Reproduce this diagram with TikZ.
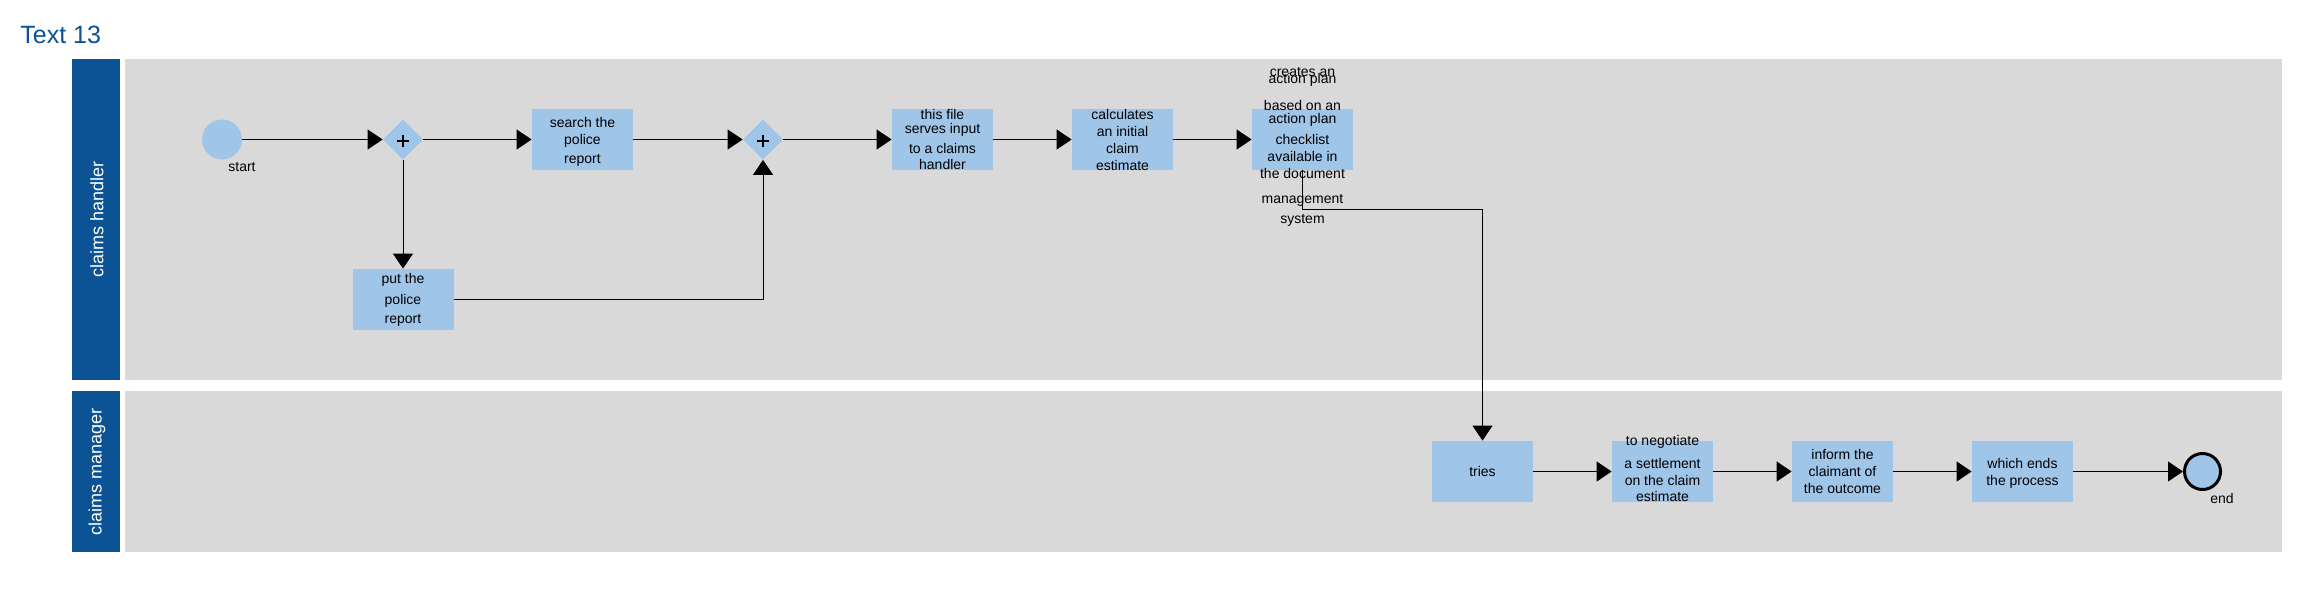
\documentclass[tikz,border=0pt]{standalone}
\usepackage{fontspec}
\setmainfont{Liberation Sans}
\usetikzlibrary{arrows.meta,shapes.geometric}
\definecolor{hdrblue}{RGB}{11,83,148}
\definecolor{boxblue}{RGB}{159,197,232}
\definecolor{lanegray}{RGB}{217,217,217}
\begin{document}
\begin{tikzpicture}[x=0.5pt,y=-0.5pt,
  task/.style={rectangle, fill=boxblue, inner sep=0, minimum width=50.5pt, minimum height=30.5pt},
  gw/.style={diamond, aspect=1, fill=boxblue, inner sep=0, minimum width=20pt, minimum height=20pt},
  txt/.style={inner sep=0, anchor=base, font=\fontsize{7pt}{8pt}\selectfont},
  flow/.style={draw=black, line width=0.5pt, -{Triangle[length=7.5pt,width=10pt]}},
  lanelbl/.style={text=white, font=\fontsize{9pt}{10pt}\selectfont, inner sep=0, rotate=90},
  plus/.style={line width=0.8pt}
]
\useasboundingbox (0,0) rectangle (2299,593);
\fill[white] (0,0) rectangle (2299,593);

% title
\node[anchor=base west, inner sep=0, text=hdrblue, font=\fontsize{12.5pt}{14pt}\selectfont] (title) at (20,44) {Text 13};

% lanes
\fill[hdrblue] (72,59) rectangle (120,380);
\fill[lanegray] (125,59) rectangle (2282,380);
\fill[hdrblue] (72,391) rectangle (120,552);
\fill[lanegray] (125,391) rectangle (2282,552);
\node[lanelbl] (lane1) at (97,219.5) {claims handler};
\node[lanelbl] (lane2) at (97,471.5) {claims manager};

% nodes
\node[circle, fill=boxblue, minimum size=20pt, inner sep=0] (start) at (222,139.5) {};
\node[gw] (gw1) at (403,139.5) {};
\node[task] (search) at (582.5,139.5) {};
\node[gw] (gw2) at (763,139.5) {};
\node[task] (put) at (403,299.5) {};
\node[task] (file) at (942.5,139.5) {};
\node[task] (calc) at (1122.5,139.5) {};
\node[task] (create) at (1302.5,139.5) {};
\node[task] (tries) at (1482.5,471.5) {};
\node[task] (nego) at (1662.5,471.5) {};
\node[task] (inform) at (1842.5,471.5) {};
\node[task] (which) at (2022.5,471.5) {};
\node[circle, fill=boxblue, draw=black, line width=1.5pt, minimum size=18pt, inner sep=0] (end) at (2202.5,471.5) {};

% plus signs
\draw[plus] (gw1.center) ++(-5.8,1.5) -- ++(11.6,0);
\draw[plus] (gw1.center) ++(0,-4.3) -- ++(0,11.6);
\draw[plus] (gw2.center) ++(-5.8,1.5) -- ++(11.6,0);
\draw[plus] (gw2.center) ++(0,-4.3) -- ++(0,11.6);

% connectors
\draw[flow] (start.east) -- (gw1.west);
\draw[flow] (gw1.east) -- (search.west);
\draw[flow] (search.east) -- (gw2.west);
\draw[flow] (gw2.east) -- (file.west);
\draw[flow] (file.east) -- (calc.west);
\draw[flow] (calc.east) -- (create.west);
\draw[flow] (gw1.south) -- (put.north);
\draw[flow] (put.east) -| (gw2.south);
\draw[flow] (create.south) -- ++(0,39) -| (tries.north);
\draw[flow] (tries.east) -- (nego.west);
\draw[flow] (nego.east) -- (inform.west);
\draw[flow] (inform.east) -- (which.west);
\draw[flow] (which.east) -- (end.west);

% labels
\node[txt] (startlbl) at (242,171.5) {start};
\node[txt] (endlbl) at (2222,503.5) {end};
\foreach \s/\y [count=\i] in {search the/127.3, police/144.3, report/164}
  \node[txt] (ts\i) at (582.5,\y) {\s};
\foreach \s/\y [count=\i] in {put the/284, police/304.3, report/324}
  \node[txt] (tp\i) at (403,\y) {\s};
\foreach \s/\y [count=\i] in {this file/119.3, serves input/133.3, to a claims/154, handler/170}
  \node[txt] (tf\i) at (942.5,\y) {\s};
\foreach \s/\y [count=\i] in {calculates/119.5, an initial/136.5, claim/153.5, estimate/170.5}
  \node[txt] (tc\i) at (1122.5,\y) {\s};
\foreach \s/\y [count=\i] in {creates an/76.7, action plan/83.3, based on an/110.7, action plan/124, checklist/145, available in/161.7, the document/179, management/203.3, system/223.3}
  \node[txt] (tr\i) at (1302.5,\y) {\s};
\node[txt] (tt1) at (1482.5,476.5) {tries};
\foreach \s/\y [count=\i] in {to negotiate/445.7, a settlement/468.3, on the claim/485.7, estimate/501.7}
  \node[txt] (tn\i) at (1662.5,\y) {\s};
\foreach \s/\y [count=\i] in {inform the/459.5, claimant of/476.5, the outcome/493.5}
  \node[txt] (ti\i) at (1842.5,\y) {\s};
\foreach \s/\y [count=\i] in {which ends/468.5, the process/485.5}
  \node[txt] (tw\i) at (2022.5,\y) {\s};
\end{tikzpicture}
\end{document}
